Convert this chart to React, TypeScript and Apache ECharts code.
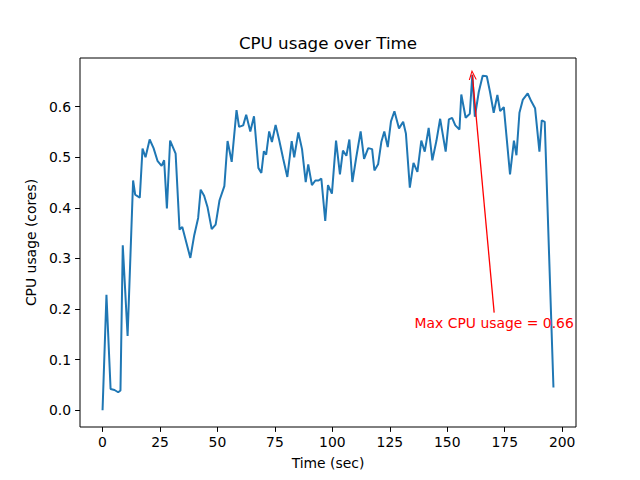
import React, { useEffect, useRef } from "react";
import * as echarts from "echarts";

const times = [
  0, 1.7, 3.5, 5.2, 6.8, 7.8, 8.8, 10.9, 13.3, 14.2, 16.2, 17.4, 18.7, 20.5, 22.2, 23.9, 25.7, 26.8, 28.0, 29.4,
  31.8, 33.5, 34.7, 38.2, 39.9, 41.6, 42.7, 44.2, 45.7, 47.5, 49.2, 50.9, 53.0, 54.4, 56.2, 58.3, 59.4, 61.2, 62.5,
  64.3, 65.9, 67.8, 69.1, 70.2, 71.2, 72.5, 73.7, 75.3, 76.9, 78.6, 80.4, 82.3, 83.4, 85.2, 86.8, 88.4, 89.5, 91.1,
  92.6, 94.0, 95.2, 96.9, 98.1, 99.8, 101.6, 103.3, 104.6, 106.1, 107.4, 108.7, 110.4, 112.3, 113.8, 115.6, 117.3,
  118.3, 119.9, 121.3, 122.6, 124.1, 125.5, 127.0, 129.0, 130.8, 132.0, 133.7, 135.3, 137.0, 138.7, 140.2, 141.9,
  143.5, 145.3, 146.9, 149.3, 150.7, 152.1, 153.5, 155.3, 156.1, 158.0, 159.8, 160.9, 162.0, 163.7, 165.4, 167.2,
  168.6, 170.2, 171.8, 173.0, 174.6, 177.3, 179.0, 180.1, 181.4, 182.9, 185.0, 186.5, 188.2, 190.1, 191.1, 192.4,
  196.2,
];

const cpuUsage = [
  0.0, 0.228, 0.042, 0.04, 0.0355, 0.039, 0.326, 0.147, 0.454, 0.426, 0.42, 0.517, 0.5, 0.535, 0.518, 0.493, 0.483,
  0.494, 0.399, 0.533, 0.507, 0.357, 0.362, 0.301, 0.346, 0.38, 0.436, 0.424, 0.401, 0.358, 0.367, 0.415, 0.443,
  0.532, 0.491, 0.593, 0.56, 0.563, 0.584, 0.551, 0.581, 0.479, 0.469, 0.512, 0.505, 0.551, 0.53, 0.564, 0.533,
  0.497, 0.461, 0.532, 0.5, 0.549, 0.516, 0.451, 0.486, 0.445, 0.454, 0.454, 0.458, 0.374, 0.445, 0.428, 0.533,
  0.466, 0.513, 0.503, 0.535, 0.451, 0.5, 0.551, 0.497, 0.518, 0.516, 0.474, 0.486, 0.53, 0.551, 0.52, 0.571,
  0.591, 0.557, 0.57, 0.547, 0.44, 0.489, 0.471, 0.533, 0.511, 0.558, 0.494, 0.533, 0.576, 0.511, 0.575, 0.578,
  0.563, 0.555, 0.624, 0.578, 0.586, 0.663, 0.58, 0.629, 0.661, 0.66, 0.629, 0.588, 0.623, 0.591, 0.599, 0.466,
  0.533, 0.504, 0.588, 0.614, 0.626, 0.611, 0.597, 0.511, 0.573, 0.57, 0.045,
];

const xTicks = [0, 25, 50, 75, 100, 125, 150, 175, 200];
const yTicks = [0, 0.1, 0.2, 0.3, 0.4, 0.5, 0.6];

const annotationText = [170.4, 0.172];
const arrowStart = [170.4, 0.193];

export default function App() {
  const ref = useRef<HTMLDivElement>(null);

  useEffect(() => {
    if (!ref.current) return;
    const chart = echarts.init(ref.current, undefined, { renderer: "svg" });

    let maxIdx = 0;
    cpuUsage.forEach((v, i) => {
      if (v > cpuUsage[maxIdx]) maxIdx = i;
    });
    const maxT = times[maxIdx];
    const maxV = cpuUsage[maxIdx];

    const tMin = Math.min(...times);
    const tMax = Math.max(...times);
    const vMin = Math.min(...cpuUsage);
    const vMax = Math.max(...cpuUsage);
    const tPad = (tMax - tMin) * 0.05;
    const vPad = (vMax - vMin) * 0.05;

    const font = "DejaVu Sans";
    const fs = 13.9;
    const data = times.map((t, i) => [t, cpuUsage[i]]);

    chart.setOption({
      animation: false,
      backgroundColor: "#ffffff",
      graphic: [
        {
          type: "text",
          x: 328,
          y: 43,
          style: {
            text: "CPU usage over Time",
            fontFamily: font,
            fontSize: 16.7,
            fill: "#000",
            textAlign: "center",
            textVerticalAlign: "middle",
          },
        },
      ],
      grid: {
        left: 80,
        top: 58,
        width: 496,
        height: 369,
        show: true,
        borderColor: "#000",
        borderWidth: 1,
        backgroundColor: "transparent",
      },
      xAxis: {
        type: "value",
        min: tMin - tPad,
        max: tMax + tPad,
        name: "Time (sec)",
        nameLocation: "middle",
        nameGap: 29,
        nameTextStyle: { fontFamily: font, fontSize: fs, color: "#000" },
        axisLine: { show: false, onZero: false },
        splitLine: { show: false },
        axisTick: {
          show: true,
          customValues: xTicks,
          length: 4.9,
          lineStyle: { color: "#000", width: 1 },
        },
        axisLabel: {
          customValues: xTicks,
          margin: 8,
          fontFamily: font,
          fontSize: fs,
          color: "#000",
          formatter: (v: number) => String(Math.round(v)),
        },
      },
      yAxis: {
        type: "value",
        min: vMin - vPad,
        max: vMax + vPad,
        name: "CPU usage (cores)",
        nameLocation: "middle",
        nameGap: 35,
        nameTextStyle: { fontFamily: font, fontSize: fs, color: "#000" },
        axisLine: { show: false, onZero: false },
        splitLine: { show: false },
        axisTick: {
          show: true,
          customValues: yTicks,
          length: 4.9,
          lineStyle: { color: "#000", width: 1 },
        },
        axisLabel: {
          customValues: yTicks,
          margin: 9,
          fontFamily: font,
          fontSize: fs,
          color: "#000",
          formatter: (v: number) => v.toFixed(1),
        },
      },
      series: [
        {
          type: "line",
          data,
          showSymbol: false,
          symbol: "none",
          lineStyle: { color: "#1f77b4", width: 2 },
          itemStyle: { color: "#1f77b4" },
          markLine: {
            silent: true,
            animation: false,
            label: { show: false },
            lineStyle: { color: "#ff0000", width: 1.3, type: "solid" },
            data: [
              [
                { coord: arrowStart, symbol: "none" },
                {
                  coord: [maxT, maxV],
                  symbol: "path://M0,10 L5,0 L10,10 L8.6,10 L5,2.6 L1.4,10 Z",
                  symbolSize: [8, 10],
                },
              ],
            ],
          },
          markPoint: {
            silent: true,
            animation: false,
            symbol: "circle",
            symbolSize: 0,
            data: [
              {
                coord: annotationText,
                label: {
                  show: true,
                  position: "inside",
                  formatter: "Max CPU usage = " + maxV.toFixed(2),
                  color: "#ff0000",
                  fontFamily: font,
                  fontSize: fs,
                },
              },
            ],
          },
        },
      ],
    });

    return () => chart.dispose();
  }, []);

  return (
    <div
      ref={ref}
      style={{ position: "fixed", left: 0, top: 0, width: 640, height: 480 }}
    />
  );
}
